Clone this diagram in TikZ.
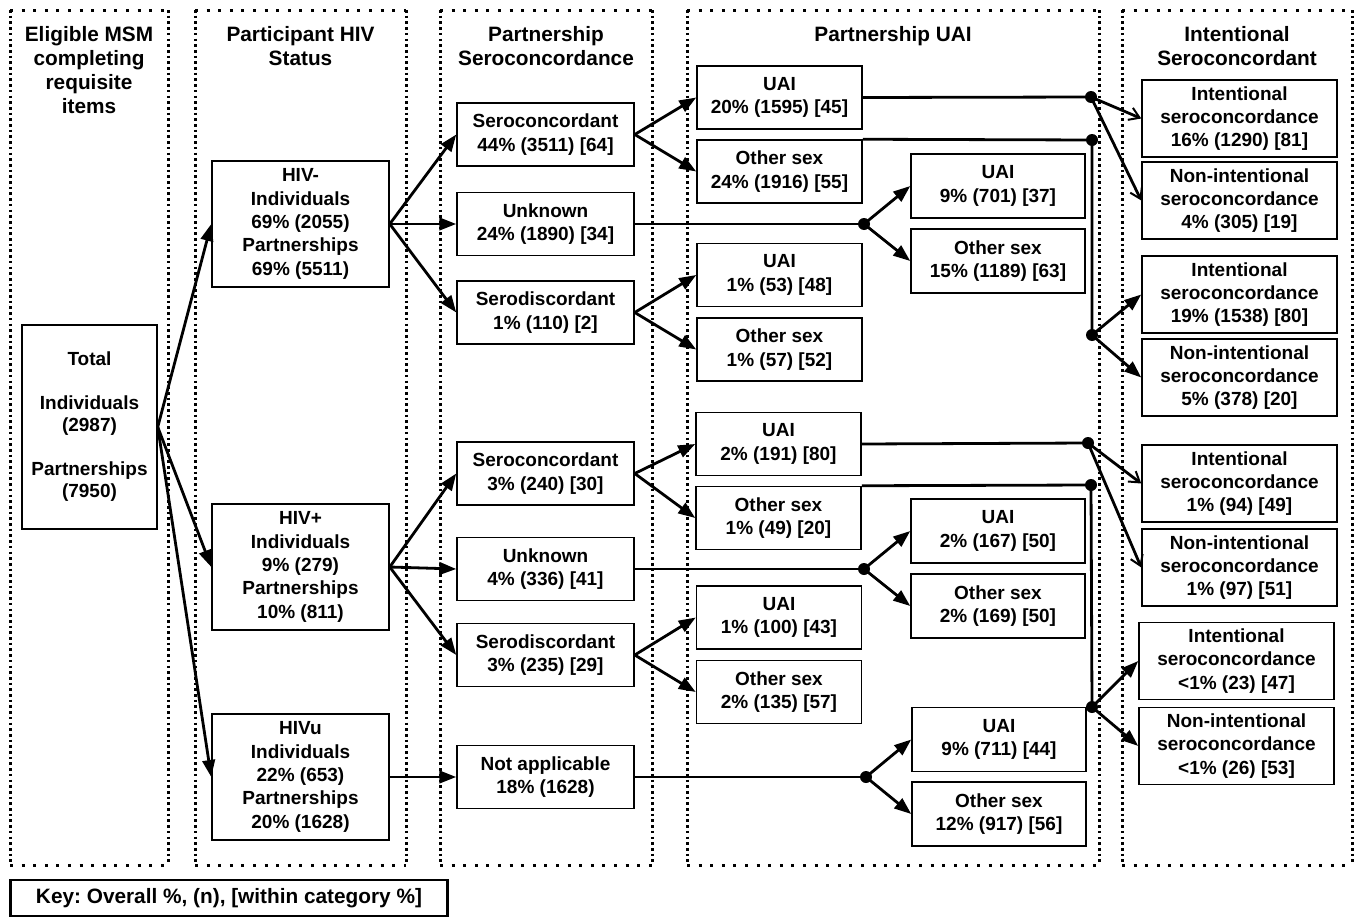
\documentclass[tikz,border=0pt]{standalone}
\usepackage{fontspec}
\setmainfont{Liberation Sans}
\usetikzlibrary{arrows.meta}
\frenchspacing
\begin{document}
\begin{tikzpicture}[x=1pt,y=-1pt,
  box/.style={draw, line width=1.5pt, align=center, inner sep=0pt,
    font=\fontsize{19}{23.3}\selectfont\bfseries},
  bxA/.style={box, minimum width=177pt, minimum height=126pt},
  bxB/.style={box, minimum width=177pt, minimum height=63pt},
  bxC/.style={box, minimum width=165pt, minimum height=63pt},
  bxD/.style={box, minimum width=174pt, minimum height=64pt},
  bxE/.style={box, minimum width=195pt, minimum height=77pt},
  head/.style={align=center, inner sep=0pt, anchor=north,
    font=\fontsize{20.8}{24.2}\selectfont\bfseries},
  conn/.style={line width=2.8pt},
  arr/.style={conn, -{Triangle[length=17pt,width=12.5pt]}},
  oarr/.style={conn, -{Straight Barb[length=10pt,width=13pt,line width=2pt]}},
  hdots/.style={line width=3pt, dash pattern=on 3pt off 8.6pt},
  vdots/.style={line width=3pt, dash pattern=on 2.6pt off 3.1pt},
  jdot/.style={circle, fill, inner sep=0pt, minimum size=12pt}
]
\useasboundingbox (0,0) rectangle (1360,918);

% dotted column frames
\foreach \l/\r in {10/168, 195/406, 440/652, 687/1099, 1122/1352}{
  \draw[hdots] (\l,10) -- (\r,10);
  \draw[hdots] (\l,865) -- (\r,865);
  \draw[vdots] (\l,10) -- (\l,865);
  \draw[vdots] (\r,10) -- (\r,865);
}

% headers
\node[head] (h1) at (89,26) {Eligible MSM\\completing\\requisite\\items};
\node[head] (h2) at (300.5,26) {Participant HIV\\Status};
\node[head] (h3) at (546,26) {Partnership\\Seroconcordance};
\node[head] (h4) at (893,26) {Partnership UAI};
\node[head] (h5) at (1237,26) {Intentional\\Seroconcordant};

% column 1
\node[box, minimum width=135pt, minimum height=204pt,
  font=\fontsize{19}{22}\selectfont\bfseries] (total) at (89.5,427)
  {Total\\[22pt]Individuals\\(2987)\\[22pt]Partnerships\\(7950)};

% column 2
\node[bxA] (neg) at (300.5,224) {HIV-\\Individuals\\69\% (2055)\\Partnerships\\69\% (5511)};
\node[bxA] (pos) at (300.5,567) {HIV+\\Individuals\\9\% (279)\\Partnerships\\10\% (811)};
\node[bxA] (unkn) at (300.5,777) {HIVu\\Individuals\\22\% (653)\\Partnerships\\20\% (1628)};

% column 3
\node[bxB] (sc1) at (545.5,134.5) {Seroconcordant\\44\% (3511) [64]};
\node[bxB] (uk1) at (545.5,224) {Unknown\\24\% (1890) [34]};
\node[bxB] (sd1) at (545.5,312.5) {Serodiscordant\\1\% (110) [2]};
\node[bxB] (sc2) at (545.5,473.5) {Seroconcordant\\3\% (240) [30]};
\node[bxB] (uk2) at (545.5,569) {Unknown\\4\% (336) [41]};
\node[bxB] (sd2) at (545.5,655) {Serodiscordant\\3\% (235) [29]};
\node[bxB] (na) at (545.5,777) {Not applicable\\18\% (1628)};

% column 4 (left)
\node[bxC] (u1) at (779.5,97.5) {UAI\\20\% (1595) [45]};
\node[bxC] (o1) at (779.5,171.5) {Other sex\\24\% (1916) [55]};
\node[bxC] (u3) at (779.5,275) {UAI\\1\% (53) [48]};
\node[bxC] (o3) at (779.5,349.5) {Other sex\\1\% (57) [52]};
\node[bxC] (u2) at (778.5,444) {UAI\\2\% (191) [80]};
\node[bxC] (o2) at (778.5,518) {Other sex\\1\% (49) [20]};
\node[bxC] (u6) at (779,617.5) {UAI\\1\% (100) [43]};
\node[bxC] (o6) at (779,692) {Other sex\\2\% (135) [57]};

% column 4 (right)
\node[bxD] (u4) at (998,186) {UAI\\9\% (701) [37]};
\node[bxD] (o4) at (998,261) {Other sex\\15\% (1189) [63]};
\node[bxD] (u5) at (998,531) {UAI\\2\% (167) [50]};
\node[bxD] (o5) at (998,606) {Other sex\\2\% (169) [50]};
\node[bxD] (u7) at (999,739.5) {UAI\\9\% (711) [44]};
\node[bxD] (o7) at (999,814) {Other sex\\12\% (917) [56]};

% column 5
\node[bxE] (i1) at (1239.5,118.5) {Intentional\\seroconcordance\\16\% (1290) [81]};
\node[bxE] (n1) at (1239.5,200.5) {Non-intentional\\seroconcordance\\4\% (305) [19]};
\node[bxE] (i2) at (1239.5,294.5) {Intentional\\seroconcordance\\19\% (1538) [80]};
\node[bxE] (n2) at (1239.5,377.5) {Non-intentional\\seroconcordance\\5\% (378) [20]};
\node[bxE] (i3) at (1239.5,483.5) {Intentional\\seroconcordance\\1\% (94) [49]};
\node[bxE] (n3) at (1239.5,567.5) {Non-intentional\\seroconcordance\\1\% (97) [51]};
\node[bxE] (i4) at (1236.5,661) {Intentional\\seroconcordance\\<1\% (23) [47]};
\node[bxE] (n4) at (1236.5,746) {Non-intentional\\seroconcordance\\<1\% (26) [53]};

% key
\node[draw, line width=2.6pt, minimum width=437pt, minimum height=36pt, inner sep=0pt,
  font=\fontsize{20.8}{24}\selectfont\bfseries] (key) at (229,898)
  {Key: Overall \%, (n), [within category \%]};

% junction dots
\node[jdot] (ja) at (864,224) {};
\node[jdot] (jb) at (864,569) {};
\node[jdot] (jc) at (866,777) {};
\node[jdot] (jd) at (1091,97) {};
\node[jdot] (je) at (1092,140) {};
\node[jdot] (jf) at (1092,335) {};
\node[jdot] (jg) at (1088,443) {};
\node[jdot] (jh) at (1091,485) {};
\node[jdot] (ji) at (1092,707) {};

% column 1 -> 2
\draw[arr] (total.east) -- (neg.west);
\draw[arr] (total.east) -- (pos.west);
\draw[arr] (total.east) -- (unkn.west);

% column 2 -> 3
\draw[arr] (neg.east) -- (sc1.west);
\draw[arr] (neg.east) -- (uk1.west);
\draw[arr] (neg.east) -- (sd1.west);
\draw[arr] (pos.east) -- (sc2.west);
\draw[arr] (pos.east) -- (uk2.west);
\draw[arr] (pos.east) -- (sd2.west);
\draw[arr] (unkn.east) -- (na.west);

% column 3 -> 4
\draw[arr] (sc1.east) -- (u1.west);
\draw[arr] (sc1.east) -- (o1.west);
\draw[arr] (sd1.east) -- (u3.west);
\draw[arr] (sd1.east) -- (o3.west);
\draw[conn] (uk1.east) -- (ja.center);
\draw[arr] (ja.center) -- (u4.west);
\draw[arr] (ja.center) -- (o4.west);

\draw[arr] (sc2.east) -- (u2.west);
\draw[arr] (sc2.east) -- (o2.west);
\draw[arr] (sd2.east) -- (u6.west);
\draw[arr] (sd2.east) -- (o6.west);
\draw[conn] (uk2.east) -- (jb.center);
\draw[arr] (jb.center) -- (u5.west);
\draw[arr] (jb.center) -- (o5.west);
\draw[conn] (na.east) -- (jc.center);
\draw[arr] (jc.center) -- (u7.west);
\draw[arr] (jc.center) -- (o7.west);

% column 4 -> 5
\draw[conn] (u1.east) -- (jd.center);
\draw[oarr] (jd.center) -- (i1.west);
\draw[oarr] (jd.center) -- (n1.west);
\draw[conn] (o1.north east) -- (je.center) -- (jf.center);
\draw[arr] (jf.center) -- (i2.west);
\draw[arr] (jf.center) -- (n2.west);

\draw[conn] (u2.east) -- (jg.center);
\draw[oarr] (jg.center) -- (i3.west);
\draw[oarr] (jg.center) -- (n3.west);
\draw[conn] (o2.north east) -- (jh.center) -- (ji.center);
\draw[arr] (ji.center) -- (i4.west);
\draw[arr] (ji.center) -- (n4.west);
\end{tikzpicture}
\end{document}
